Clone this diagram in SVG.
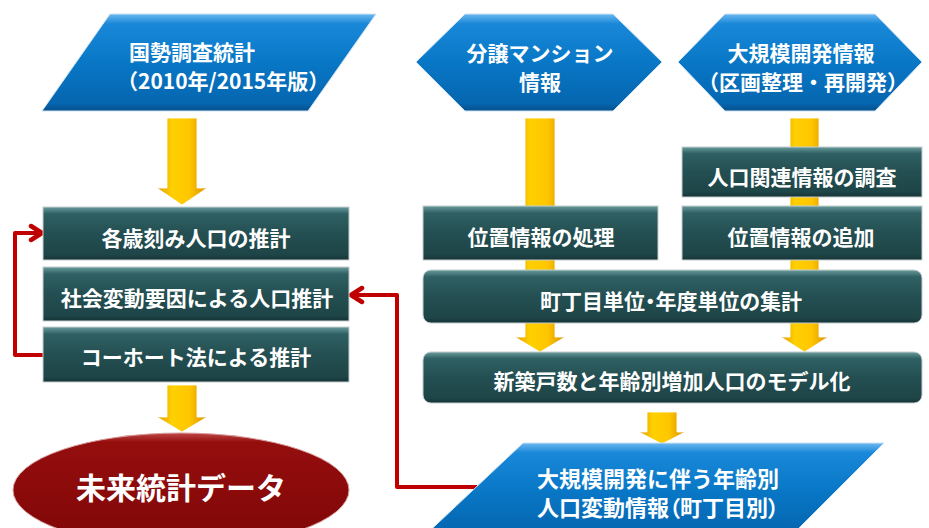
<svg xmlns="http://www.w3.org/2000/svg" width="929" height="528" viewBox="0 0 929 528">
<defs>
  <linearGradient id="gBox" x1="0" y1="0" x2="0" y2="1">
    <stop offset="0" stop-color="#6A9C9E"/>
    <stop offset="0.13" stop-color="#2F6063"/>
    <stop offset="0.5" stop-color="#244F52"/>
    <stop offset="0.9" stop-color="#1E4547"/>
    <stop offset="1" stop-color="#163436"/>
  </linearGradient>
  <linearGradient id="gBlue" x1="0" y1="0" x2="0" y2="1">
    <stop offset="0" stop-color="#6BB8F0"/>
    <stop offset="0.1" stop-color="#1A88D8"/>
    <stop offset="0.5" stop-color="#0877C6"/>
    <stop offset="0.92" stop-color="#0666B0"/>
    <stop offset="1" stop-color="#04508C"/>
  </linearGradient>
  <linearGradient id="gRed" x1="0" y1="0" x2="0" y2="1">
    <stop offset="0" stop-color="#C04848"/>
    <stop offset="0.08" stop-color="#950E0E"/>
    <stop offset="1" stop-color="#7F0606"/>
  </linearGradient>
  <linearGradient id="gYel" x1="0" y1="0" x2="1" y2="0">
    <stop offset="0" stop-color="#E09A00"/>
    <stop offset="0.3" stop-color="#FFD000"/>
    <stop offset="0.65" stop-color="#FFC600"/>
    <stop offset="1" stop-color="#D89000"/>
  </linearGradient>
  <marker id="redArrow" viewBox="0 0 16 20" refX="14" refY="10" markerWidth="16" markerHeight="20" markerUnits="userSpaceOnUse" orient="auto">
    <path d="M3,3 L14,10 L3,17" fill="none" stroke="#C00000" stroke-width="4.5" stroke-linecap="round" stroke-linejoin="round"/>
  </marker>
  <style>
    .box { fill: url(#gBox); stroke: #C5CDCD; stroke-width: 1; }
    .blue { fill: url(#gBlue); stroke: #CFE2F4; stroke-width: 1; }
    .yarrow { fill: url(#gYel); stroke: #FFFFFF; stroke-width: 0.8; }
    .red { fill: none; stroke: #C00000; stroke-width: 4; stroke-linejoin: round; }
    text { font-family: "Noto Sans CJK JP", "Noto Sans", sans-serif; font-weight: bold; fill: #FFFFFF; dominant-baseline: central; }
    .t21 { font-size: 21px; }
    .t22 { font-size: 22px; }
    .mid { text-anchor: middle; }
    .palt { font-feature-settings: "palt"; }
  </style>
</defs>

<g id="connectors">
  <path class="yarrow" d="M167,118 H197 V188 H207 L182,205 L157,188 H167 Z"/>
  <path class="yarrow" d="M525,118 H555 V337 H565 L540,352 L515,337 H525 Z"/>
  <path class="yarrow" d="M790,118 H819 V337 H828 L804.5,352 L781,337 H790 Z"/>
  <path class="yarrow" d="M167,385 H197 V417 H207 L182,432 L157,417 H167 Z"/>
  <path class="yarrow" d="M647,412 H677 V432 H685 L662,444 L639,432 H647 Z"/>
  <path class="red" d="M43,355 H15 V233 H42" marker-end="url(#redArrow)"/>
  <path class="red" d="M477,487 H397 V295 H351" marker-end="url(#redArrow)"/>
</g>

<g id="census">
  <polygon class="blue" points="110,14 376,14 308,111 42,111"/>
  <text class="t21" x="129" y="51">国勢調査統計</text>
  <text class="t21" x="117" y="80">（2010年/2015年版）</text>
</g>

<g id="condo">
  <polygon class="blue" points="416,62 465,14 613,14 662,62 613,111 465,111"/>
  <text class="t21 mid" x="540" y="52">分譲マンション</text>
  <text class="t21 mid" x="540" y="81">情報</text>
</g>

<g id="largedev">
  <polygon class="blue" points="678,62 725,14 875,14 922,62 875,111 725,111"/>
  <text class="t21 mid" x="801" y="52">大規模開発情報</text>
  <text class="t21 mid" x="803" y="81">（区画整理・再開発）</text>
</g>

<g id="survey">
  <rect class="box" x="682" y="147" width="240" height="50"/>
  <text class="t21 mid" x="802" y="176">人口関連情報の調査</text>
</g>

<g id="posproc">
  <rect class="box" x="423" y="206" width="235" height="54"/>
  <text class="t21 mid" x="541" y="236">位置情報の処理</text>
</g>

<g id="posadd">
  <rect class="box" x="682" y="206" width="240" height="54"/>
  <text class="t21 mid" x="801" y="236">位置情報の追加</text>
</g>

<g id="aggregate">
  <rect class="box" x="423" y="270" width="499" height="53" rx="8"/>
  <text class="t21 mid palt" x="671" y="300">町丁目単位・年度単位の集計</text>
</g>

<g id="model">
  <rect class="box" x="423" y="352" width="499" height="51" rx="8"/>
  <text class="t21 mid" x="672" y="380">新築戸数と年齢別増加人口のモデル化</text>
</g>

<g id="ageest">
  <rect class="box" x="43" y="207" width="306" height="53"/>
  <text class="t21 mid" x="196" y="237">各歳刻み人口の推計</text>
</g>

<g id="socialest">
  <rect class="box" x="43" y="267" width="306" height="54"/>
  <text class="t21 mid" x="197" y="297">社会変動要因による人口推計</text>
</g>

<g id="cohort">
  <rect class="box" x="43" y="327" width="306" height="55"/>
  <text class="t21 mid" x="196" y="356">コーホート法による推計</text>
</g>

<g id="devinfo">
  <polygon class="blue" points="523,443 884,443 787,540 420,540"/>
  <text class="t22" x="537" y="477">大規模開発に伴う年齢別</text>
  <text class="t22 palt" x="537" y="506">人口変動情報（町丁目別）</text>
</g>

<g id="future">
  <ellipse cx="181" cy="490" rx="168" ry="57" fill="url(#gRed)" stroke="#D8A0A0" stroke-width="1"/>
  <text class="mid" x="181" y="486" font-size="30">未来統計データ</text>
</g>
</svg>
